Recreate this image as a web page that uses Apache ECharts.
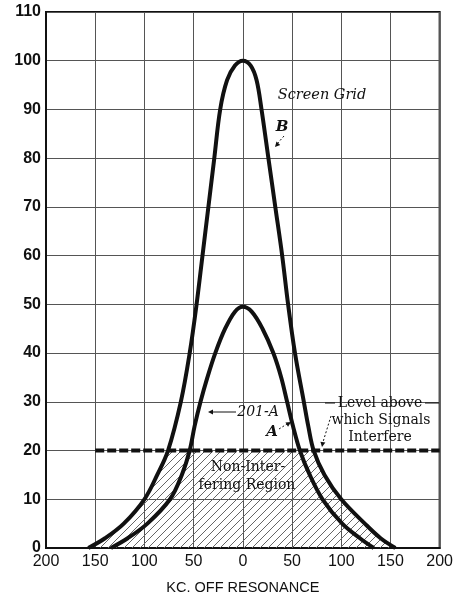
<!DOCTYPE html>
<html>
<head>
<meta charset="utf-8">
<script src="https://cdn.jsdelivr.net/npm/echarts@6/dist/echarts.min.js"></script>
<style>
  html, body { margin: 0; background: #fff; }
  #chart-container { width: 456px; height: 600px; }
</style>
</head>
<body>
<div id="chart-container"></div>
<script>
var dom = document.getElementById("chart-container");
var myChart = echarts.init(dom, null, { renderer: "canvas" });

// curve B - screen grid tube (kc off resonance, response)
const screenGridX = [-157, -140, -121, -100, -87, -76, -63, -54, -47, -41, -35, -29, -23, -16, -8, 0, 8, 14, 19, 26, 33, 40, 46, 53, 62, 66.5, 72, 83, 100, 124, 140, 155];
const screenGridY = [0, 2, 5, 10, 15, 20, 30, 40, 50, 60, 70, 80, 90, 96, 99, 100, 99, 96, 90, 80, 70, 60, 50, 40, 30, 25, 20, 15, 10, 5, 2, 0];

// curve A - 201-A tube
const tubeAX = [-134, -117, -97, -74, -62, -54, -49, -43, -36, -28, -18, -8, 0, 9, 20, 31, 39, 45, 51, 58, 68, 81, 101, 119, 133];
const tubeAY = [0, 2, 5, 10, 15, 20, 25, 30, 35, 40, 45, 48.5, 49.5, 48.5, 45, 40, 35, 30, 25, 20, 15, 10, 5, 2, 0];

// interference level
const levelValue = 20;
const levelFrom = -150;
const levelTo = 200;

function pairs(xs, ys) {
  return xs.map(function (x, i) { return [x, ys[i]]; });
}

// hatched region: under curve B, capped at the interference level
const hatchData = pairs(screenGridX, screenGridY).map(function (p) {
  return [p[0], Math.min(p[1], levelValue)];
});

// diagonal hatch pattern
var pat = document.createElement("canvas");
pat.width = 8;
pat.height = 8;
var ctx = pat.getContext("2d");
ctx.strokeStyle = "#666";
ctx.lineWidth = 1;
ctx.beginPath();
ctx.moveTo(0, 8); ctx.lineTo(8, 0);
ctx.moveTo(-1, 1); ctx.lineTo(1, -1);
ctx.moveTo(7, 9); ctx.lineTo(9, 7);
ctx.stroke();

var serif = '"DejaVu Serif", "Liberation Serif", serif';

function label(text, x, y, font) {
  return {
    type: "text",
    x: x,
    y: y,
    z: 100,
    style: {
      text: text,
      font: font || "14px " + serif,
      fill: "#111",
      textAlign: "center",
      textVerticalAlign: "middle",
    },
  };
}

function seg(x1, y1, x2, y2, dash) {
  return {
    type: "line",
    z: 100,
    shape: { x1: x1, y1: y1, x2: x2, y2: y2 },
    style: { stroke: "#111", lineWidth: 1, lineDash: dash || null },
  };
}

function head(x, y, angle) {
  // small arrowhead pointing in direction angle (radians)
  var l = 5, w = 2.5;
  var bx = x - l * Math.cos(angle), by = y - l * Math.sin(angle);
  var nx = -Math.sin(angle) * w, ny = Math.cos(angle) * w;
  return {
    type: "polygon",
    z: 100,
    shape: { points: [[x, y], [bx + nx, by + ny], [bx - nx, by - ny]] },
    style: { fill: "#111" },
  };
}

var option = {
  animation: false,
  grid: {
    left: 46,
    right: 16,
    top: 12,
    bottom: 49,
    show: true,
    borderColor: "#111",
    borderWidth: 2,
  },
  xAxis: {
    type: "value",
    min: -200,
    max: 200,
    interval: 50,
    name: "KC. OFF RESONANCE",
    nameLocation: "middle",
    nameGap: 32,
    nameTextStyle: { fontSize: 14.5, color: "#111", fontFamily: "Liberation Sans" },
    axisLine: { show: true, onZero: false, lineStyle: { color: "#111", width: 2 } },
    axisTick: { show: false },
    axisLabel: {
      fontSize: 16,
      color: "#111",
      fontFamily: "Liberation Sans",
      margin: 6,
      formatter: function (v) { return Math.abs(v); },
    },
    splitLine: { show: true, lineStyle: { color: "#555", width: 1 } },
  },
  yAxis: {
    type: "value",
    min: 0,
    max: 110,
    interval: 10,
    axisLine: { show: true, onZero: false, lineStyle: { color: "#111", width: 2 } },
    axisTick: { show: false },
    axisLabel: {
      fontSize: 16,
      fontWeight: "bold",
      color: "#111",
      fontFamily: "Liberation Sans",
      margin: 5,
    },
    splitLine: { show: true, lineStyle: { color: "#555", width: 1 } },
  },
  series: [
    {
      type: "line",
      name: "hatch",
      data: hatchData,
      symbol: "none",
      lineStyle: { width: 0, opacity: 0 },
      areaStyle: { color: { image: pat, repeat: "repeat" }, opacity: 1 },
      z: 1,
    },
    {
      type: "line",
      name: "Screen Grid",
      data: pairs(screenGridX, screenGridY),
      smooth: 0.35,
      symbol: "none",
      lineStyle: { color: "#111", width: 4 },
      z: 3,
    },
    {
      type: "line",
      name: "201-A",
      data: pairs(tubeAX, tubeAY),
      smooth: 0.35,
      symbol: "none",
      lineStyle: { color: "#111", width: 4 },
      z: 3,
    },
    {
      type: "line",
      name: "level",
      data: [[levelFrom, levelValue], [levelTo, levelValue]],
      symbol: "none",
      lineStyle: { color: "#111", width: 4, type: [9, 3] },
      z: 4,
    },
  ],
  graphic: [
    label("Screen Grid", 322, 95, "italic 14.5px " + serif),
    label("B", 282, 127, "italic bold 15px " + serif),
    seg(284, 136, 277, 144, [2, 2]),
    head(275, 147, 2.3),
    label("201-A", 258, 412, "italic 14px " + serif),
    seg(236, 412, 212, 412),
    head(208, 412, Math.PI),
    label("A", 272, 432, "italic bold 15px " + serif),
    seg(279, 429, 287, 424, [2, 2]),
    head(291, 422, -0.55),
    label("Level above", 380, 403),
    seg(325, 403, 335, 403),
    seg(425, 403, 439, 403),
    label("which Signals", 381, 420),
    label("Interfere", 380, 437),
    seg(331, 416, 323, 442, [2, 2]),
    head(322, 447, 1.75),
    label("Non-Inter-", 248, 467),
    label("fering Region", 247, 485),
  ],
};

myChart.setOption(option);
window.addEventListener("resize", myChart.resize);
</script>
</body>
</html>
